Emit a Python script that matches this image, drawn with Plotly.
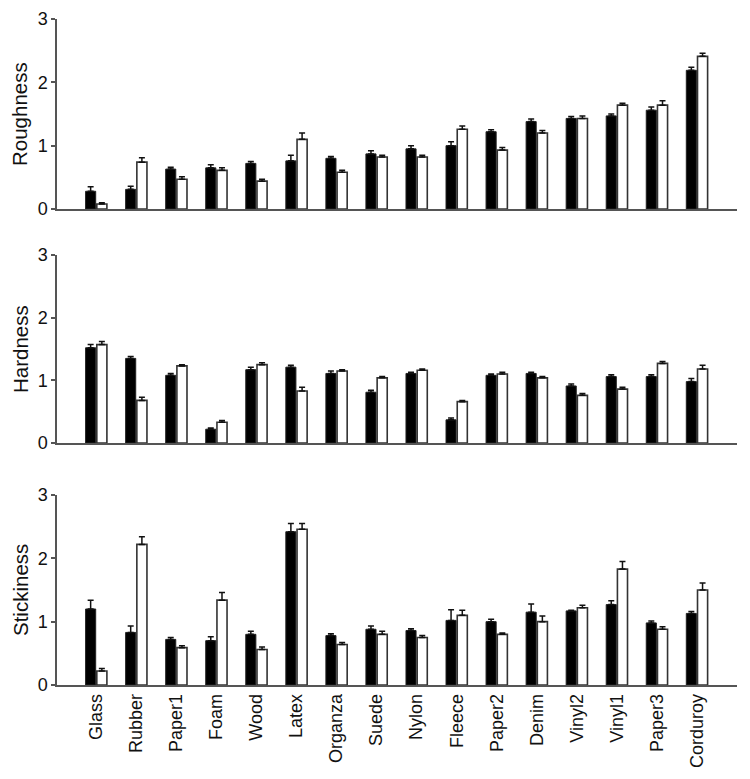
import plotly.graph_objects as go
from plotly.subplots import make_subplots

materials = ["Glass", "Rubber", "Paper1", "Foam", "Wood", "Latex", "Organza", "Suede",
             "Nylon", "Fleece", "Paper2", "Denim", "Vinyl2", "Vinyl1", "Paper3", "Corduroy"]

rough_a = [0.28, 0.31, 0.63, 0.65, 0.72, 0.76, 0.80, 0.87, 0.95, 1.00, 1.22, 1.38, 1.43, 1.47, 1.56, 2.19]
rough_a_err = [0.07, 0.05, 0.03, 0.05, 0.03, 0.09, 0.03, 0.05, 0.05, 0.06, 0.03, 0.04, 0.03, 0.03, 0.05, 0.05]
rough_b = [0.08, 0.74, 0.47, 0.61, 0.44, 1.10, 0.58, 0.82, 0.82, 1.26, 0.93, 1.20, 1.43, 1.64, 1.64, 2.41]
rough_b_err = [0.02, 0.07, 0.04, 0.04, 0.03, 0.10, 0.03, 0.03, 0.03, 0.05, 0.04, 0.04, 0.04, 0.03, 0.07, 0.05]

hard_a = [1.52, 1.35, 1.08, 0.22, 1.17, 1.21, 1.11, 0.81, 1.11, 0.37, 1.08, 1.11, 0.91, 1.06, 1.06, 0.98]
hard_a_err = [0.05, 0.03, 0.03, 0.02, 0.04, 0.03, 0.04, 0.03, 0.02, 0.03, 0.02, 0.02, 0.03, 0.03, 0.03, 0.05]
hard_b = [1.57, 0.68, 1.23, 0.33, 1.25, 0.83, 1.15, 1.04, 1.16, 0.66, 1.10, 1.04, 0.76, 0.86, 1.27, 1.18]
hard_b_err = [0.05, 0.05, 0.02, 0.03, 0.03, 0.06, 0.02, 0.02, 0.02, 0.02, 0.03, 0.02, 0.03, 0.03, 0.03, 0.06]

stick_a = [1.20, 0.83, 0.72, 0.70, 0.80, 2.42, 0.78, 0.88, 0.86, 1.02, 1.00, 1.15, 1.17, 1.27, 0.98, 1.13]
stick_a_err = [0.14, 0.10, 0.03, 0.06, 0.05, 0.13, 0.03, 0.05, 0.03, 0.17, 0.04, 0.13, 0.01, 0.06, 0.03, 0.03]
stick_b = [0.22, 2.22, 0.59, 1.34, 0.56, 2.46, 0.64, 0.80, 0.75, 1.10, 0.80, 1.00, 1.22, 1.83, 0.88, 1.50]
stick_b_err = [0.04, 0.12, 0.03, 0.12, 0.04, 0.09, 0.03, 0.05, 0.03, 0.08, 0.02, 0.09, 0.04, 0.12, 0.04, 0.11]

panels = [
    ("Roughness", rough_a, rough_a_err, rough_b, rough_b_err),
    ("Hardness", hard_a, hard_a_err, hard_b, hard_b_err),
    ("Stickiness", stick_a, stick_a_err, stick_b, stick_b_err),
]

W, H = 750, 779
OFF = 8  # page body margin
x0_px, x1_px = 57 - OFF, 737 - OFF
panel_px = [(19 - OFF, 209 - OFF), (255 - OFF, 443 - OFF), (495 - OFF, 685 - OFF)]

fig = make_subplots(rows=3, cols=1)

FONT = "Liberation Sans, Arial, sans-serif"

for i, (name, a, ae, b, be) in enumerate(panels):
    r = i + 1
    fig.add_trace(go.Bar(
        x=materials, y=a,
        marker=dict(color="#000000", line=dict(color="#222222", width=1)),
        error_y=dict(type="data", array=ae, arrayminus=[0] * len(ae), symmetric=False,
                     color="#111111", thickness=1.5, width=3),
        showlegend=False,
    ), row=r, col=1)
    fig.add_trace(go.Bar(
        x=materials, y=b,
        marker=dict(color="#ffffff", line=dict(color="#333333", width=1.6)),
        error_y=dict(type="data", array=be, arrayminus=[0] * len(be), symmetric=False,
                     color="#111111", thickness=1.5, width=3),
        showlegend=False,
    ), row=r, col=1)
    top, bot = panel_px[i]
    dom = [1 - bot / H, 1 - top / H]
    xa = "xaxis" if r == 1 else f"xaxis{r}"
    ya = "yaxis" if r == 1 else f"yaxis{r}"
    fig.layout[xa].update(
        domain=[x0_px / W, x1_px / W], range=[-0.98, 16.0],
        showline=True, linecolor="#555555", linewidth=1.5,
        ticks="", showgrid=False, zeroline=False,
        showticklabels=(r == 3), tickangle=-90,
        tickfont=dict(family=FONT, size=18, color="#111111"),
        automargin=False,
    )
    fig.layout[ya].update(
        domain=dom, range=[0, 3], tickvals=[0, 1, 2, 3],
        showline=True, linecolor="#555555", linewidth=1.5,
        ticks="outside", ticklen=4, tickcolor="#555555", tickwidth=1.5,
        showgrid=False, zeroline=False,
        tickfont=dict(family=FONT, size=18, color="#111111"),
        automargin=False,
    )
    fig.add_annotation(
        text=name, textangle=-90, xref="paper", yref="paper",
        x=(20 - OFF) / W, y=(dom[0] + dom[1]) / 2, showarrow=False,
        font=dict(family=FONT, size=20.5, color="#111111"),
        xanchor="center", yanchor="middle", borderpad=0,
    )

fig.update_layout(
    width=W, height=H,
    margin=dict(l=0, r=0, t=0, b=0),
    barmode="group", bargap=0.44, bargroupgap=0.1,
    plot_bgcolor="white", paper_bgcolor="white",
)

fig.write_html("out.html")
